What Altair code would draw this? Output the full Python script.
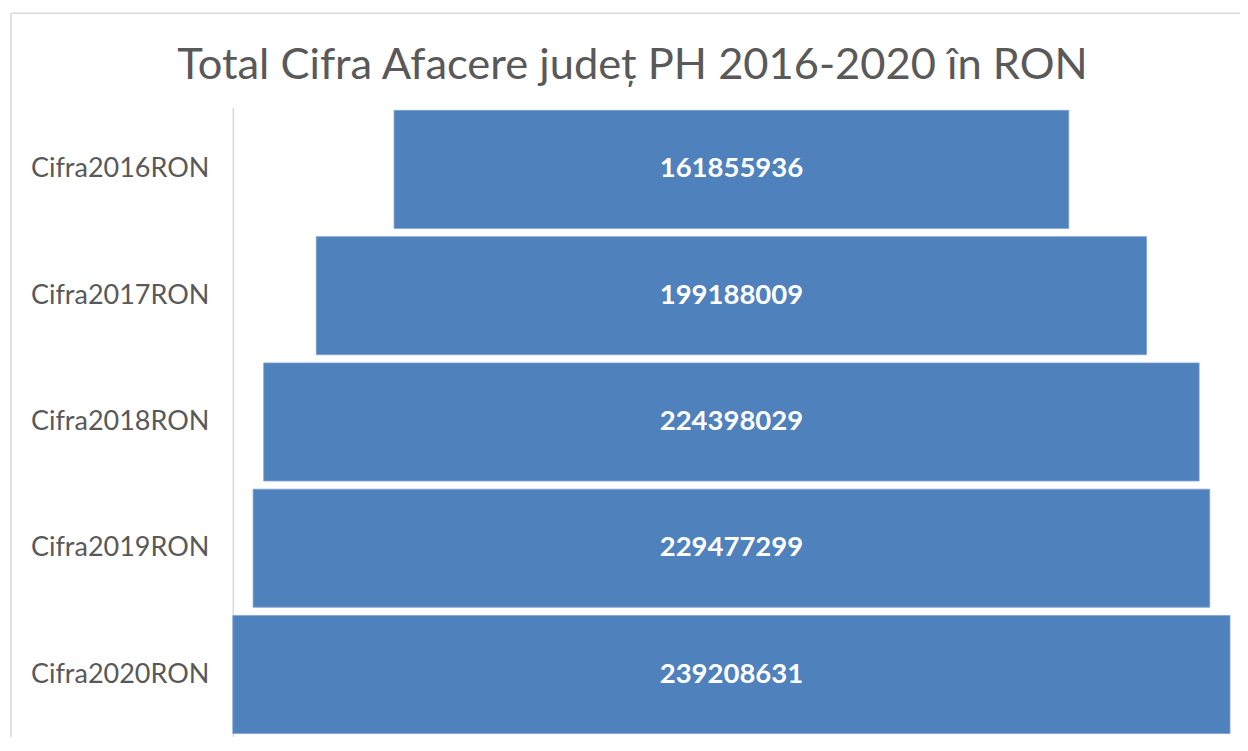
import altair as alt
import pandas as pd

categories = ["Cifra2016RON", "Cifra2017RON", "Cifra2018RON", "Cifra2019RON", "Cifra2020RON"]
values = [161855936, 199188009, 224398029, 229477299, 239208631]
TITLE = "Total Cifra Afacere județ PH 2016-2020 în RON"

FONT = "Lato"
GRAY = "#595959"
BLUE = "#4f81bd"

df = pd.DataFrame({"cat": categories, "val": values})
vmax = max(values)

base = alt.Chart(df).transform_calculate(
    lo="-datum.val/2", hi="datum.val/2", mid="0"
)

xscale = alt.Scale(domain=[-vmax / 2, vmax / 2], nice=False, zero=False)
yscale = alt.Scale(paddingInner=0.065, paddingOuter=0.025)
yaxis = alt.Axis(
    title=None, ticks=False, labelPadding=24, labelFontSize=27, labelFont=FONT,
    labelColor=GRAY, domainColor="#d9d9d9", domainWidth=1.5, grid=False,
    labelLimit=400,
)

bars = base.mark_bar(color=BLUE, stroke="#7fa3d3", strokeWidth=0.8).encode(
    x=alt.X("lo:Q", scale=xscale, axis=None),
    x2="hi:Q",
    y=alt.Y("cat:N", sort=categories, scale=yscale, axis=yaxis),
)

labels = base.mark_text(
    color="white", font=FONT, fontWeight="bold", fontSize=27.5, align="center", baseline="middle"
).encode(
    x=alt.X("mid:Q", scale=xscale, axis=None),
    y=alt.Y("cat:N", sort=categories, scale=yscale, axis=yaxis),
    text=alt.Text("val:Q", format="d"),
)

one = alt.Chart(pd.DataFrame({"t": [TITLE]}))

title = one.mark_text(
    font=FONT, fontSize=43.5, color=GRAY, align="center", baseline="alphabetic"
).encode(x=alt.value(400), y=alt.value(-28), text="t:N")

frame_top = one.mark_rule(color="#d9d9d9", strokeWidth=1.5).encode(
    x=alt.value(-222), x2=alt.value(1008), y=alt.value(-94)
)
frame_left = one.mark_rule(color="#d9d9d9", strokeWidth=1.5).encode(
    x=alt.value(-222), y=alt.value(-94), y2=alt.value(640)
)

chart = alt.layer(frame_top, frame_left, bars, labels, title).resolve_scale(
    y="shared", x="shared"
).properties(
    width=998, height=630,
    background="white",
    padding={"left": 225, "top": 99, "right": 10, "bottom": 0},
    autosize=alt.AutoSizeParams(type="none"),
).configure_view(stroke="transparent", strokeWidth=0)

chart.save("out.html", embed_options={"renderer": "svg", "actions": False})
